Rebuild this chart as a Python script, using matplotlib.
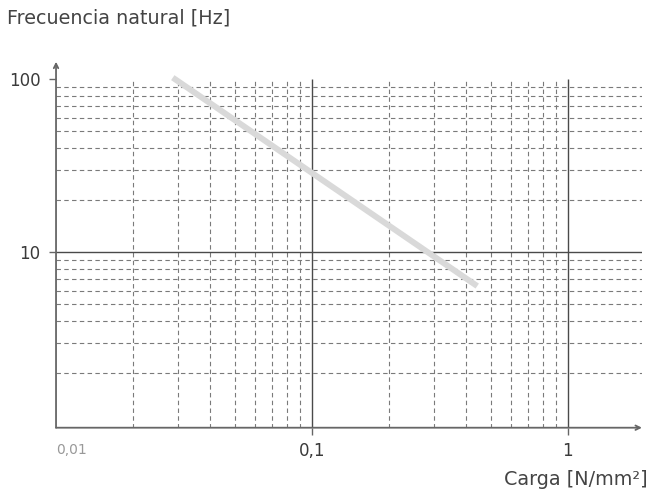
import numpy as np
import matplotlib
matplotlib.use("Agg")
import matplotlib.pyplot as plt

plt.rcParams['font.family'] = ['DejaVu Sans']

# Data (log-log straight line)
carga = [0.0286, 0.443]          # N/mm2
frecuencia = [102, 6.38]         # Hz

x_ticks = [0.1, 1]
x_ticklabels = ['0,1', '1']
y_ticks = [10, 100]
y_ticklabels = ['10', '100']

x_minor = [0.02, 0.03, 0.04, 0.05, 0.06, 0.07, 0.08, 0.09,
           0.2, 0.3, 0.4, 0.5, 0.6, 0.7, 0.8, 0.9]
y_minor = [2, 3, 4, 5, 6, 7, 8, 9, 20, 30, 40, 50, 60, 70, 80, 90]

xmin, xmax = 0.01, 1.95
ymin, ymax = 0.97, 126
grid_top = 100

fig = plt.figure(figsize=(6.53, 4.94), dpi=100)
ax = fig.add_axes([0.0858, 0.1342, 0.983 - 0.0858, 0.875 - 0.1342])
ax.set_xscale('log')
ax.set_yscale('log')
ax.set_xlim(xmin, xmax)
ax.set_ylim(ymin, ymax)

dash_col = '#7a7a7a'
solid_col = '#4a4a4a'
axis_col = '#666666'

# grid lines
ax.vlines(x_minor, ymin, grid_top, colors=dash_col, linestyles=(0, (4, 3)), lw=0.8, zorder=1)
ax.vlines(x_ticks, ymin, grid_top, colors=solid_col, lw=1.0, zorder=1)
for y in y_minor:
    ax.axhline(y, color=dash_col, ls=(0, (4, 3)), lw=0.8, zorder=1)
ax.axhline(10, color=solid_col, lw=1.0, zorder=1)

# the curve
ax.plot(carga, frecuencia, color='#d9d9d9', lw=4.3, solid_capstyle='butt', zorder=3)

# axes with arrows
for s in ax.spines.values():
    s.set_visible(False)
ax.annotate('', xy=(1, 0), xytext=(0, 0), xycoords='axes fraction',
            arrowprops=dict(arrowstyle='->', color=axis_col, lw=1.3,
                            shrinkA=0, shrinkB=0, mutation_scale=8))
ax.annotate('', xy=(0, 1), xytext=(0, 0), xycoords='axes fraction',
            arrowprops=dict(arrowstyle='->', color=axis_col, lw=1.3,
                            shrinkA=0, shrinkB=0, mutation_scale=8))

ax.set_xticks(x_ticks)
ax.set_xticklabels(x_ticklabels)
ax.set_yticks(y_ticks)
ax.set_yticklabels(y_ticklabels)
ax.xaxis.set_minor_locator(matplotlib.ticker.NullLocator())
ax.yaxis.set_minor_locator(matplotlib.ticker.NullLocator())
ax.tick_params(axis='both', direction='out', length=5, width=1, color=axis_col,
               labelsize=12, labelcolor='#3a3a3a')
ax.tick_params(axis='x', pad=5)
ax.tick_params(axis='y', pad=6)

ax.text(0.0, -0.042, '0,01', transform=ax.transAxes, ha='left', va='top',
        fontsize=10, color='#999999')

fig.text(7 / 653, 1 - 24 / 494, 'Frecuencia natural [Hz]', fontsize=13.8,
         color='#444444', ha='left', va='baseline')
fig.text(648 / 653, 1 - 484.5 / 494, 'Carga [N/mm²]', fontsize=13.8,
         color='#444444', ha='right', va='baseline')

fig.savefig('out.png', dpi=100)
